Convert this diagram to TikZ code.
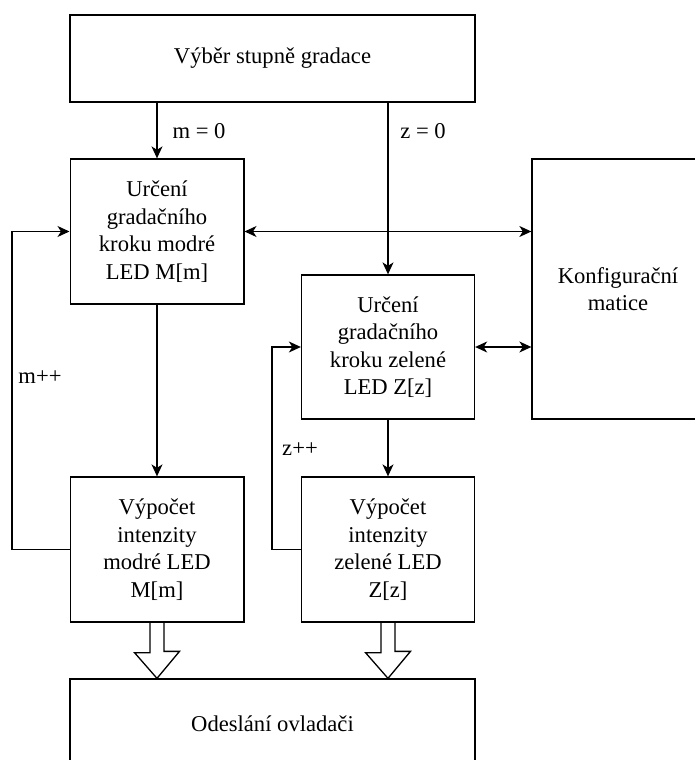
\documentclass[tikz,border=0pt]{standalone}
\usepackage{fontspec}
\setmainfont{LiberationSerif}[Extension=.ttf,UprightFont=*-Regular,BoldFont=*-Bold]
\usetikzlibrary{arrows.meta,calc}
\begin{document}
\begin{tikzpicture}[x=1pt,y=-1pt,
  txt/.style={font=\fontsize{22.6}{27.5}\selectfont},
  box/.style={draw,line width=1.3pt,inner sep=0pt,align=center,txt},
  lbl/.style={inner sep=0pt,txt},
  conn/.style={line width=1.3pt,-{Stealth[length=12pt,width=11pt,inset=3.5pt]}},
  bconn/.style={line width=1.3pt,{Stealth[length=12pt,width=11pt,inset=3.5pt]}-{Stealth[length=12pt,width=11pt,inset=3.5pt]}},
  plain/.style={line width=1.3pt}]
\useasboundingbox (0,0) rectangle (695,760);
\clip (0,0) rectangle (695,760);

\node[box,minimum width=405pt,minimum height=87pt] (top) at (272.5,58.5) {Výběr stupně gradace};
\node[box,minimum width=173.7pt,minimum height=145pt] (mb) at (157,231.5) {Určení\\gradačního\\kroku modré\\LED M[m]};
\node[box,minimum width=173pt,minimum height=144pt] (zb) at (388,347) {Určení\\gradačního\\kroku zelené\\LED Z[z]};
\node[box,minimum width=172pt,minimum height=260pt] (konf) at (618,289) {Konfigurační\\matice};
\node[box,minimum width=173.7pt,minimum height=145pt] (mc) at (157,549.5) {Výpočet\\intenzity\\modré LED\\M[m]};
\node[box,minimum width=173pt,minimum height=145pt] (zc) at (388,549.5) {Výpočet\\intenzity\\zelené LED\\Z[z]};
\node[box,minimum width=405pt,minimum height=90pt] (bot) at (272.5,724) {Odeslání ovladači};

\node[lbl] (lm) at (199,131) {m = 0};
\node[lbl] (lz) at (423,131) {z = 0};
\node[lbl] (lmp) at (40,377) {m++};
\node[lbl] (lzp) at (300,449) {z++};

\draw[conn] (top.south -| mb.north) -- (mb.north);
\draw[conn] (top.south -| zb.north) -- (zb.north);
\draw[bconn] (mb.east) -- (konf.west |- mb.east);
\draw[bconn] (zb.east) -- (konf.west |- zb.east);
\draw[conn] (mb.south) -- (mc.north);
\draw[conn] (zb.south) -- (zc.north);
\draw[conn] (mc.west) -- ++(-57.5,0) |- (mb.west);
\draw[conn] (zc.west) -- ++(-29,0) |- (zb.west);

\draw[plain] ($(mc.south)+(-7,0)$) -- ++(0,30) -- ++(-15.5,0) -- (bot.north -| mc.south) -- ++(22.5,-27) -- ++(-15.5,0) -- ++(0,-30);
\draw[plain] ($(zc.south)+(-7,0)$) -- ++(0,30) -- ++(-15.5,0) -- (bot.north -| zc.south) -- ++(22.5,-27) -- ++(-15.5,0) -- ++(0,-30);
\end{tikzpicture}
\end{document}
